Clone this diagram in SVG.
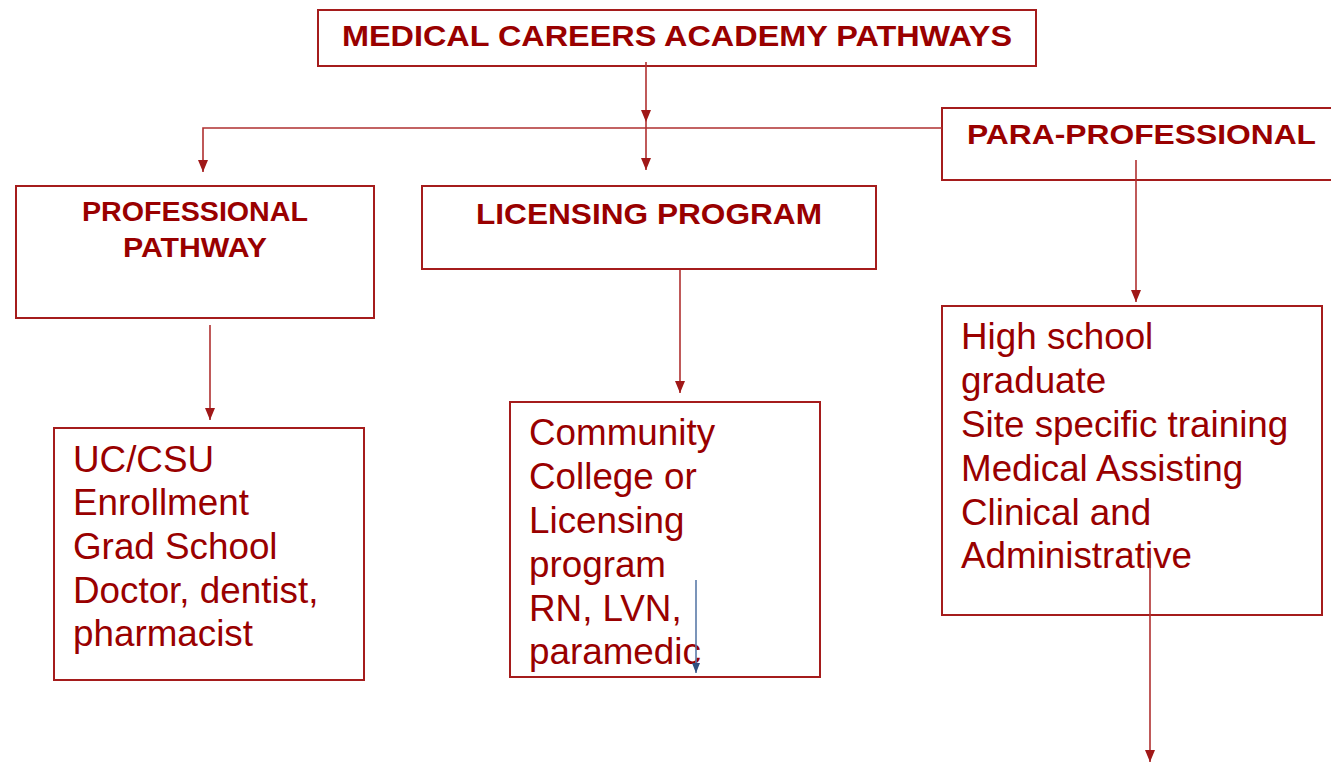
<svg xmlns="http://www.w3.org/2000/svg" width="1331" height="763" viewBox="0 0 1331 763">
<style>
.box{fill:#fff;stroke:#a51c1c;stroke-width:2}
.head{font-family:"Liberation Sans",Arial,sans-serif;font-weight:bold;fill:#990000}
.body{font-family:"Liberation Sans",Arial,sans-serif;font-size:36.8px;fill:#990000}
.con{fill:none;stroke:#b03030;stroke-width:1.6}
.blue{fill:none;stroke:#5a7aa8;stroke-width:1.6}
</style>
<defs>
<marker id="ad" markerUnits="userSpaceOnUse" markerWidth="10" markerHeight="12" viewBox="0 0 10 12" refX="5" refY="12" orient="0">
<path d="M0,0 L10,0 L5,12 Z" fill="#a01818"/>
</marker>
<marker id="adb" markerUnits="userSpaceOnUse" markerWidth="8" markerHeight="10" viewBox="0 0 8 10" refX="4" refY="10" orient="0">
<path d="M0,0 L8,0 L4,10 Z" fill="#2f4f80"/>
</marker>
</defs>
<rect width="1331" height="763" fill="#fff"/>
<g id="title">
<rect class="box" x="318" y="10" width="718" height="56"/>
<text class="head" x="342" y="46" font-size="29" textLength="670" lengthAdjust="spacingAndGlyphs">MEDICAL CAREERS ACADEMY PATHWAYS</text>
</g>
<g id="professional">
<rect class="box" x="16" y="186" width="358" height="132"/>
<text class="head" x="195" y="221" font-size="27" text-anchor="middle" textLength="226" lengthAdjust="spacingAndGlyphs">PROFESSIONAL</text>
<text class="head" x="195" y="257" font-size="27" text-anchor="middle" textLength="144" lengthAdjust="spacingAndGlyphs">PATHWAY</text>
</g>
<g id="licensing">
<rect class="box" x="422" y="186" width="454" height="83"/>
<text class="head" x="476" y="224" font-size="30" textLength="346" lengthAdjust="spacingAndGlyphs">LICENSING PROGRAM</text>
</g>
<g id="paraprofessional">
<rect class="box" x="942" y="108" width="400" height="72"/>
<text class="head" x="967" y="144" font-size="28" textLength="349" lengthAdjust="spacingAndGlyphs">PARA-PROFESSIONAL</text>
</g>
<g id="uc">
<rect class="box" x="54" y="428" width="310" height="252"/>
<text class="body" x="73" y="472">UC/CSU</text>
<text class="body" x="73" y="515">Enrollment</text>
<text class="body" x="73" y="559">Grad School</text>
<text class="body" x="73" y="603">Doctor, dentist,</text>
<text class="body" x="73" y="646">pharmacist</text>
</g>
<g id="community">
<rect class="box" x="510" y="402" width="310" height="275"/>
<text class="body" x="529" y="445">Community</text>
<text class="body" x="529" y="489">College or</text>
<text class="body" x="529" y="533">Licensing</text>
<text class="body" x="529" y="577">program</text>
<text class="body" x="529" y="621">RN, LVN,</text>
<text class="body" x="529" y="664">paramedic</text>
</g>
<g id="highschool">
<rect class="box" x="942" y="306" width="380" height="309"/>
<text class="body" x="961" y="349">High school</text>
<text class="body" x="961" y="393">graduate</text>
<text class="body" x="961" y="437">Site specific training</text>
<text class="body" x="961" y="481">Medical Assisting</text>
<text class="body" x="961" y="525">Clinical and</text>
<text class="body" x="961" y="568">Administrative</text>
</g>
<g id="connectors">
<path class="con" d="M646,62 V122" marker-end="url(#ad)"/>
<path class="con" d="M646,122 V170" marker-end="url(#ad)"/>
<path class="con" d="M942,128 H203 V172" marker-end="url(#ad)"/>
<path class="con" d="M210,325 V420" marker-end="url(#ad)"/>
<path class="con" d="M680,270 V393" marker-end="url(#ad)"/>
<path class="con" d="M1136,160 V302" marker-end="url(#ad)"/>
<path class="con" d="M1150,553 V762" marker-end="url(#ad)"/>
<path class="blue" d="M696,580 V673" marker-end="url(#adb)"/>
</g>
</svg>
